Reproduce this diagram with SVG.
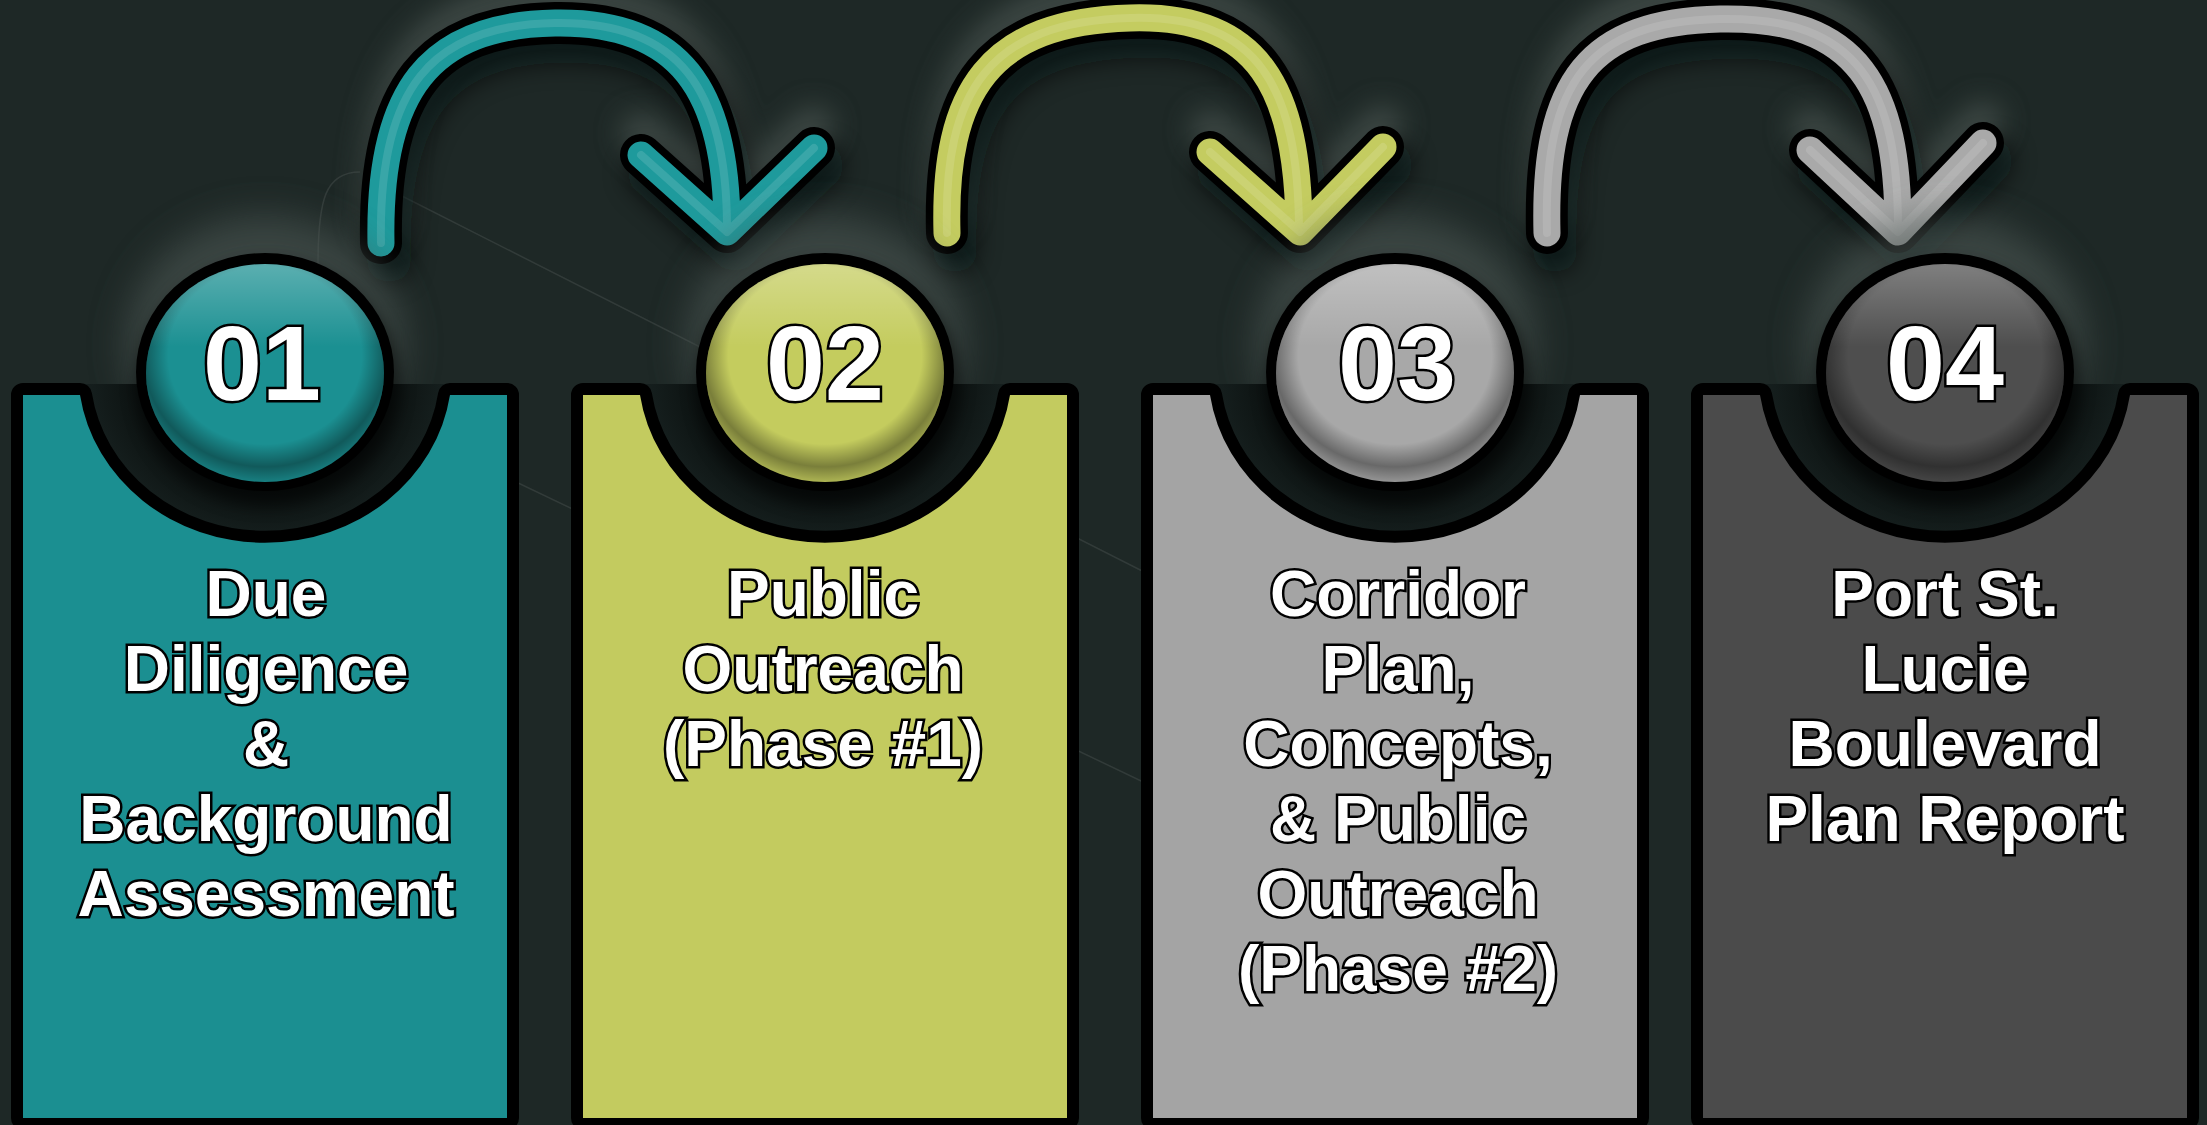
<svg xmlns="http://www.w3.org/2000/svg" width="2207" height="1125" viewBox="0 0 2207 1125">
<defs>
<style>
.num{font-family:"Liberation Sans",Arial,sans-serif;font-weight:bold;font-size:106px;fill:#fff;stroke:#000;stroke-width:5;paint-order:stroke;text-anchor:middle}
.lbl{font-family:"Liberation Sans",Arial,sans-serif;font-weight:bold;font-size:64px;fill:#fff;stroke:#000;stroke-width:5;paint-order:stroke;text-anchor:middle}
.card{stroke:#000;stroke-width:24;paint-order:stroke;stroke-linejoin:round}
.halo{fill:#4e5855;opacity:.6;filter:url(#blur18)}
.cshadow{fill:#000;opacity:.55;filter:url(#blur8)}
.ring{fill:#000}
.ashadow{fill:none;stroke:#050807;stroke-width:44;stroke-linecap:round;stroke-linejoin:round;opacity:.6;filter:url(#blur12)}
.aglow{fill:none;stroke:#59635f;stroke-width:40;stroke-linecap:round;stroke-linejoin:round;opacity:.55;filter:url(#blur14)}
.aout{fill:none;stroke:#000;stroke-width:42;stroke-linecap:round;stroke-linejoin:round}
.abody{fill:none;stroke-width:27;stroke-linecap:round;stroke-linejoin:round}
.ahi{fill:none;stroke:#fff;stroke-width:8;stroke-linecap:round;stroke-linejoin:round;opacity:.12}
.faint{fill:none;stroke:#fff;stroke-width:1.5;opacity:.09}
</style>
<filter id="blur18" x="-50%" y="-50%" width="200%" height="200%"><feGaussianBlur stdDeviation="18"/></filter>
<filter id="blur14" x="-50%" y="-50%" width="200%" height="200%"><feGaussianBlur stdDeviation="14"/></filter>
<filter id="blur12" x="-50%" y="-50%" width="200%" height="200%"><feGaussianBlur stdDeviation="12"/></filter>
<filter id="blur8" x="-50%" y="-50%" width="200%" height="200%"><feGaussianBlur stdDeviation="8"/></filter>
<radialGradient id="notchGrad" cx="50%" cy="50%" r="50%">
<stop offset="0.55" stop-color="#070b0a"/>
<stop offset="1" stop-color="#172120"/>
</radialGradient>
<radialGradient id="shade" cx="50%" cy="42%" r="58%">
<stop offset="0" stop-color="#000" stop-opacity="0"/>
<stop offset="0.7" stop-color="#000" stop-opacity="0"/>
<stop offset="0.88" stop-color="#000" stop-opacity="0.38"/>
<stop offset="1" stop-color="#000" stop-opacity="0.12"/>
</radialGradient>
<linearGradient id="hilite" x1="0" y1="0" x2="0" y2="1">
<stop offset="0" stop-color="#fff" stop-opacity="0.28"/>
<stop offset="0.38" stop-color="#fff" stop-opacity="0"/>
</linearGradient>
<clipPath id="belowTop" clipPathUnits="userSpaceOnUse"><rect x="0" y="384" width="2207" height="741"/></clipPath>
</defs>

<rect width="2207" height="1125" fill="#1e2826"/>

<g id="background-lines">
<path class="faint" d="M 400 195 L 1160 580"/>
<path class="faint" d="M 330 393 L 1160 790"/>
<path class="faint" d="M 318 265 C 318 200 325 172 360 172"/>
</g>

<g id="connectors">
<g id="arrow-01-02">
<path class="aglow" transform="translate(0,-22)" d="M 381 243 C 378 90 430 25 555 23 C 680 21 727 90 727 228 M 641 155 L 727 232 L 814 148"/>
<path class="ashadow" transform="translate(8,18)" d="M 381 243 C 378 90 430 25 555 23 C 680 21 727 90 727 228 M 641 155 L 727 232 L 814 148"/>
<path class="aout" d="M 381 243 C 378 90 430 25 555 23 C 680 21 727 90 727 228 M 641 155 L 727 232 L 814 148"/>
<path class="abody" stroke="#1e9a9c" d="M 381 243 C 378 90 430 25 555 23 C 680 21 727 90 727 228 M 641 155 L 727 232 L 814 148"/>
<path class="ahi" d="M 381 243 C 378 90 430 25 555 23 C 680 21 727 90 727 228 M 641 155 L 727 232 L 814 148"/>
</g>
<g id="arrow-02-03">
<path class="aglow" transform="translate(0,-22)" d="M 947 233 C 943 90 990 22 1130 18 C 1260 14 1298 90 1299 228 M 1210 152 L 1300 232 L 1383 147"/>
<path class="ashadow" transform="translate(8,18)" d="M 947 233 C 943 90 990 22 1130 18 C 1260 14 1298 90 1299 228 M 1210 152 L 1300 232 L 1383 147"/>
<path class="aout" d="M 947 233 C 943 90 990 22 1130 18 C 1260 14 1298 90 1299 228 M 1210 152 L 1300 232 L 1383 147"/>
<path class="abody" stroke="#c4cc60" d="M 947 233 C 943 90 990 22 1130 18 C 1260 14 1298 90 1299 228 M 1210 152 L 1300 232 L 1383 147"/>
<path class="ahi" d="M 947 233 C 943 90 990 22 1130 18 C 1260 14 1298 90 1299 228 M 1210 152 L 1300 232 L 1383 147"/>
</g>
<g id="arrow-03-04">
<path class="aglow" transform="translate(0,-22)" d="M 1547 233 C 1543 80 1590 22 1720 19 C 1860 16 1898 90 1898 228 M 1810 150 L 1898 232 L 1983 143"/>
<path class="ashadow" transform="translate(8,18)" d="M 1547 233 C 1543 80 1590 22 1720 19 C 1860 16 1898 90 1898 228 M 1810 150 L 1898 232 L 1983 143"/>
<path class="aout" d="M 1547 233 C 1543 80 1590 22 1720 19 C 1860 16 1898 90 1898 228 M 1810 150 L 1898 232 L 1983 143"/>
<path class="abody" stroke="#a9a9a9" d="M 1547 233 C 1543 80 1590 22 1720 19 C 1860 16 1898 90 1898 228 M 1810 150 L 1898 232 L 1983 143"/>
<path class="ahi" d="M 1547 233 C 1543 80 1590 22 1720 19 C 1860 16 1898 90 1898 228 M 1810 150 L 1898 232 L 1983 143"/>
</g>
</g>

<g id="node-01">
<ellipse class="halo" cx="265" cy="345" rx="140" ry="130"/>
<ellipse cx="265" cy="372" rx="187" ry="173" fill="url(#notchGrad)" clip-path="url(#belowTop)"/>
<path class="card" fill="#1b8f91" d="M 23 395 H 80 A 187 173 0 0 0 450 395 H 507 V 1118 H 23 Z"/>
<ellipse class="cshadow" cx="268" cy="384" rx="132" ry="122"/>
<ellipse class="ring" cx="265" cy="372" rx="129" ry="119"/>
<ellipse cx="265" cy="373" rx="119" ry="109" fill="#1b9092"/>
<ellipse cx="265" cy="373" rx="119" ry="109" fill="url(#shade)"/>
<ellipse cx="265" cy="373" rx="119" ry="109" fill="url(#hilite)"/>
<text class="num" x="262" y="400">01</text>
<text class="lbl" x="266" y="616">Due</text>
<text class="lbl" x="266" y="691">Diligence</text>
<text class="lbl" x="266" y="766">&amp;</text>
<text class="lbl" x="266" y="841">Background</text>
<text class="lbl" x="266" y="916">Assessment</text>
</g>

<g id="node-02">
<ellipse class="halo" cx="825" cy="345" rx="140" ry="130"/>
<ellipse cx="825" cy="372" rx="187" ry="173" fill="url(#notchGrad)" clip-path="url(#belowTop)"/>
<path class="card" fill="#c3cb5f" d="M 583 395 H 640 A 187 173 0 0 0 1010 395 H 1067 V 1118 H 583 Z"/>
<ellipse class="cshadow" cx="828" cy="384" rx="132" ry="122"/>
<ellipse class="ring" cx="825" cy="372" rx="129" ry="119"/>
<ellipse cx="825" cy="373" rx="119" ry="109" fill="#c4cc5e"/>
<ellipse cx="825" cy="373" rx="119" ry="109" fill="url(#shade)"/>
<ellipse cx="825" cy="373" rx="119" ry="109" fill="url(#hilite)"/>
<text class="num" x="825" y="400">02</text>
<text class="lbl" x="823" y="616">Public</text>
<text class="lbl" x="823" y="691">Outreach</text>
<text class="lbl" x="823" y="766">(Phase #1)</text>
</g>

<g id="node-03">
<ellipse class="halo" cx="1395" cy="345" rx="140" ry="130"/>
<ellipse cx="1395" cy="372" rx="187" ry="173" fill="url(#notchGrad)" clip-path="url(#belowTop)"/>
<path class="card" fill="#a4a4a4" d="M 1153 395 H 1210 A 187 173 0 0 0 1580 395 H 1637 V 1118 H 1153 Z"/>
<ellipse class="cshadow" cx="1398" cy="384" rx="132" ry="122"/>
<ellipse class="ring" cx="1395" cy="372" rx="129" ry="119"/>
<ellipse cx="1395" cy="373" rx="119" ry="109" fill="#a8a8a8"/>
<ellipse cx="1395" cy="373" rx="119" ry="109" fill="url(#shade)"/>
<ellipse cx="1395" cy="373" rx="119" ry="109" fill="url(#hilite)"/>
<text class="num" x="1397" y="400">03</text>
<text class="lbl" x="1398" y="616">Corridor</text>
<text class="lbl" x="1398" y="691">Plan,</text>
<text class="lbl" x="1398" y="766">Concepts,</text>
<text class="lbl" x="1398" y="841">&amp; Public</text>
<text class="lbl" x="1398" y="916">Outreach</text>
<text class="lbl" x="1398" y="991">(Phase #2)</text>
</g>

<g id="node-04">
<ellipse class="halo" cx="1945" cy="345" rx="140" ry="130"/>
<ellipse cx="1945" cy="372" rx="187" ry="173" fill="url(#notchGrad)" clip-path="url(#belowTop)"/>
<path class="card" fill="#4b4b4b" d="M 1703 395 H 1760 A 187 173 0 0 0 2130 395 H 2187 V 1118 H 1703 Z"/>
<ellipse class="cshadow" cx="1948" cy="384" rx="132" ry="122"/>
<ellipse class="ring" cx="1945" cy="372" rx="129" ry="119"/>
<ellipse cx="1945" cy="373" rx="119" ry="109" fill="#4e4e4e"/>
<ellipse cx="1945" cy="373" rx="119" ry="109" fill="url(#shade)"/>
<ellipse cx="1945" cy="373" rx="119" ry="109" fill="url(#hilite)"/>
<text class="num" x="1945" y="400">04</text>
<text class="lbl" x="1945" y="616">Port St.</text>
<text class="lbl" x="1945" y="691">Lucie</text>
<text class="lbl" x="1945" y="766">Boulevard</text>
<text class="lbl" x="1945" y="841">Plan Report</text>
</g>
</svg>
